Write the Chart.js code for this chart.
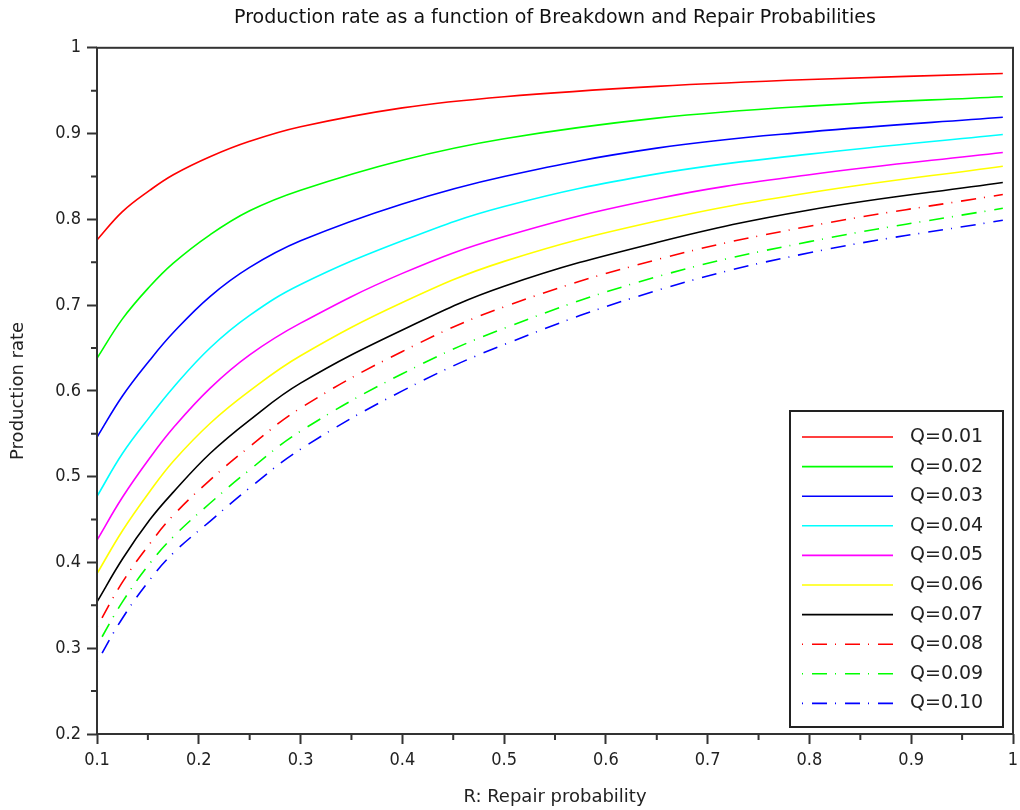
<!DOCTYPE html>
<html>
<head>
<meta charset="utf-8">
<script src="https://cdn.jsdelivr.net/npm/chart.js@4/dist/chart.umd.min.js"></script>
<style>
  html, body { margin: 0; padding: 0; background: #fff; }
</style>
</head>
<body>
<canvas id="chart" width="1020" height="810"></canvas>
<script>
const repairProb = [0.1, 0.125, 0.152, 0.175, 0.211, 0.25, 0.3, 0.4, 0.5, 0.65, 0.8, 0.99];

// production rate for each breakdown probability Q
const q01 = [0.776, 0.809, 0.834, 0.852, 0.873, 0.891, 0.908, 0.930, 0.943, 0.955, 0.963, 0.970];
const q02 = [0.638, 0.684, 0.722, 0.749, 0.782, 0.810, 0.834, 0.869, 0.894, 0.918, 0.932, 0.943];
const q03 = [0.546, 0.594, 0.636, 0.668, 0.710, 0.744, 0.775, 0.818, 0.850, 0.883, 0.902, 0.919];
const q04 = [0.477, 0.527, 0.570, 0.604, 0.650, 0.688, 0.724, 0.775, 0.815, 0.853, 0.876, 0.899];
const q05 = [0.426, 0.476, 0.522, 0.557, 0.603, 0.642, 0.679, 0.737, 0.780, 0.824, 0.852, 0.878];
const q06 = [0.387, 0.437, 0.483, 0.518, 0.562, 0.600, 0.641, 0.703, 0.751, 0.798, 0.831, 0.862];
const q07 = [0.354, 0.404, 0.450, 0.482, 0.527, 0.566, 0.609, 0.671, 0.722, 0.773, 0.811, 0.843];
const q08 = [0.325, 0.377, 0.422, 0.455, 0.496, 0.535, 0.580, 0.646, 0.698, 0.753, 0.792, 0.829];
const q09 = [0.303, 0.354, 0.399, 0.430, 0.469, 0.508, 0.553, 0.620, 0.673, 0.733, 0.774, 0.813];
const q10 = [0.284, 0.335, 0.380, 0.411, 0.448, 0.487, 0.532, 0.600, 0.654, 0.717, 0.761, 0.799];

const seriesLabels = ['Q=0.01', 'Q=0.02', 'Q=0.03', 'Q=0.04', 'Q=0.05',
                      'Q=0.06', 'Q=0.07', 'Q=0.08', 'Q=0.09', 'Q=0.10'];
const seriesValues = [q01, q02, q03, q04, q05, q06, q07, q08, q09, q10];

// minor tick positions
const xMinor = [0.15, 0.25, 0.35, 0.45, 0.55, 0.65, 0.75, 0.85, 0.95];
const yMinor = [0.25, 0.35, 0.45, 0.55, 0.65, 0.75, 0.85, 0.95];

const colors = ['#ff0000', '#00ff00', '#0000ff', '#00ffff', '#ff00ff',
                '#ffff00', '#000000', '#ff0000', '#00ff00', '#0000ff'];
const dashDot = [1, 9, 15, 8];

const condensed = "'DejaVu Sans Condensed', 'DejaVu Sans', sans-serif";
const sans = "'DejaVu Sans', sans-serif";
const axisColor = '#333';

const datasets = seriesValues.map((vals, i) => ({
    label: seriesLabels[i],
    data: vals.map((v, k) => ({ x: repairProb[k], y: v })),
    borderColor: colors[i],
    borderWidth: 1.6,
    borderDash: i >= 7 ? dashDot : [],
    pointRadius: 0,
    tension: 0.4,
    fill: false
}));

// box around the plot + short minor ticks
const frameTicks = {
    id: 'frameTicks',
    afterDatasetsDraw(chart) {
        const { ctx, chartArea: a, scales: { x, y } } = chart;
        ctx.save();
        ctx.strokeStyle = axisColor;
        ctx.lineWidth = 2;
        ctx.strokeRect(a.left, a.top, a.right - a.left, a.bottom - a.top);
        ctx.beginPath();
        xMinor.forEach(v => {
            const px = x.getPixelForValue(v);
            ctx.moveTo(px, a.bottom);
            ctx.lineTo(px, a.bottom + 6);
        });
        yMinor.forEach(v => {
            const py = y.getPixelForValue(v);
            ctx.moveTo(a.left, py);
            ctx.lineTo(a.left - 6, py);
        });
        ctx.stroke();
        ctx.restore();
    }
};

// legend box in the lower right corner
const boxLegend = {
    id: 'boxLegend',
    afterDraw(chart) {
        const { ctx, chartArea: a } = chart;
        const w = 213, h = 316;
        const left = a.right - 10 - w;
        const top = a.bottom - 7 - h;
        ctx.save();
        ctx.fillStyle = '#fff';
        ctx.fillRect(left, top, w, h);
        ctx.strokeStyle = '#222';
        ctx.lineWidth = 2;
        ctx.strokeRect(left, top, w, h);
        ctx.font = "19px " + sans;
        ctx.textBaseline = 'middle';
        chart.data.datasets.forEach((ds, i) => {
            const cy = top + 26 + i * 29.6;
            ctx.strokeStyle = ds.borderColor;
            ctx.lineWidth = 1.6;
            ctx.setLineDash(ds.borderDash);
            ctx.beginPath();
            ctx.moveTo(left + 12, cy);
            ctx.lineTo(left + 103, cy);
            ctx.stroke();
            ctx.setLineDash([]);
            ctx.fillStyle = '#222';
            ctx.fillText(ds.label, left + 120, cy);
        });
        ctx.restore();
    }
};

const tickLabel = v => String(Number(v.toFixed(2)));

new Chart(document.getElementById('chart'), {
    type: 'line',
    data: { datasets },
    options: {
        responsive: false,
        animation: false,
        layout: { padding: { left: 0, right: 7, top: 0, bottom: 0 } },
        plugins: {
            legend: { display: false },
            tooltip: { enabled: false },
            title: {
                display: true,
                fullSize: false,
                text: 'Production rate as a function of Breakdown and Repair Probabilities',
                color: '#111',
                font: { family: sans, size: 19, weight: 'normal' },
                padding: { top: 7, bottom: 18 }
            }
        },
        scales: {
            x: {
                type: 'linear',
                min: 0.1,
                max: 1,
                border: { display: false },
                grid: { drawOnChartArea: false, tickLength: 10, tickColor: axisColor, tickWidth: 2 },
                ticks: { stepSize: 0.1, color: '#222', padding: 6, maxRotation: 0,
                         callback: tickLabel, font: { family: condensed, size: 18 } },
                title: { display: true, text: 'R: Repair probability', color: '#222',
                         font: { family: sans, size: 18 }, padding: { top: 4, bottom: 2 } },
                afterFit: s => { s.height = 76; s.paddingLeft = 0; s.paddingRight = 0; }
            },
            y: {
                min: 0.2,
                max: 1,
                border: { display: false },
                grid: { drawOnChartArea: false, tickLength: 10, tickColor: axisColor, tickWidth: 2 },
                ticks: { stepSize: 0.1, color: '#222', padding: 6,
                         callback: tickLabel, font: { family: condensed, size: 18 } },
                title: { display: true, text: 'Production rate', color: '#222',
                         font: { family: sans, size: 18 }, padding: { top: 8, bottom: 4 } },
                afterFit: s => { s.width = 97; s.paddingTop = 0; s.paddingBottom = 0; }
            }
        }
    },
    plugins: [frameTicks, boxLegend]
});
</script>
</body>
</html>
